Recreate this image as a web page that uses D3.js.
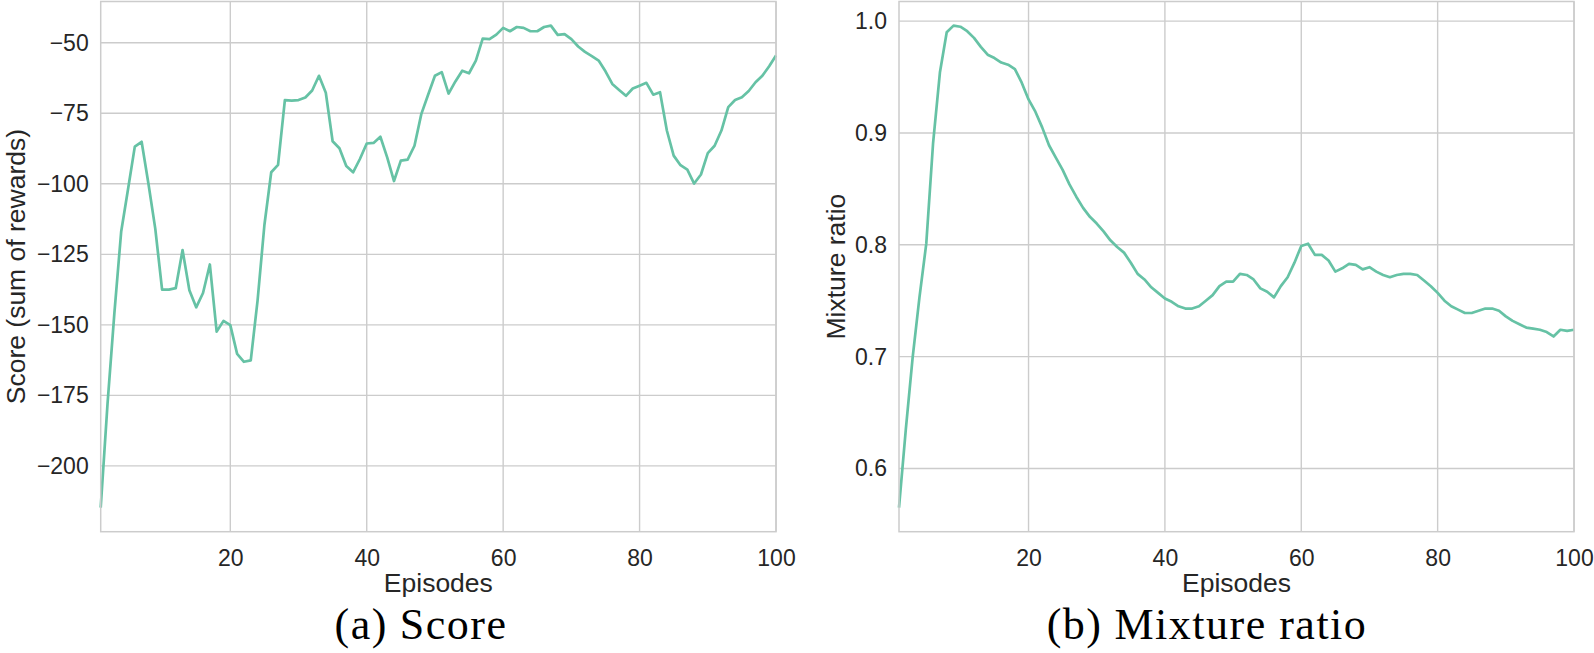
<!DOCTYPE html>
<html><head><meta charset="utf-8">
<script src="https://cdn.jsdelivr.net/npm/d3@7"></script>
<style>html,body{margin:0;padding:0;background:#fff;} svg{display:block}</style>
</head><body>
<svg id="chart" width="1594" height="653"></svg>
<script>
const episodes = d3.range(1, 101);
const scoreValues = [
 -214.8,-178,-146,-117,-102,-86.8,-85.1,-100,-115.9,-137.5,
 -137.5,-137,-123.5,-137.7,-143.8,-138.7,-128.6,-152.4,-148.6,-150.1,
 -160.3,-163.1,-162.6,-141.3,-114.6,-95.9,-93.3,-70.3,-70.5,-70.3,
 -69.4,-66.9,-61.7,-67.7,-84.9,-87.4,-93.7,-95.9,-91.2,-85.7,
 -85.5,-83.3,-90.6,-99.0,-91.8,-91.4,-86.5,-75.3,-68.4,-61.7,
 -60.4,-68,-63.7,-59.9,-60.8,-56.3,-48.5,-48.7,-47.1,-44.7,
 -45.9,-44.4,-44.7,-45.9,-45.9,-44.4,-43.9,-47.2,-46.9,-48.7,
 -51.3,-53.2,-54.7,-56.3,-60.1,-64.6,-66.7,-68.8,-66.2,-65.2,
 -64.2,-68.4,-67.5,-81.1,-90,-93.4,-95,-99.9,-96.7,-89.1,
 -86.5,-81.1,-72.8,-70.3,-69.3,-67.1,-64,-61.7,-58.3,-54.5
];
const ratioValues = [
 0.565,0.635,0.699,0.753,0.801,0.891,0.954,0.990,0.996,0.995,
 0.991,0.985,0.977,0.970,0.967,0.963,0.961,0.957,0.945,0.930,
 0.919,0.905,0.889,0.878,0.867,0.854,0.843,0.833,0.825,0.819,
 0.812,0.804,0.798,0.793,0.784,0.774,0.769,0.762,0.757,0.752,
 0.749,0.745,0.743,0.743,0.745,0.750,0.755,0.763,0.767,0.767,
 0.774,0.773,0.769,0.761,0.758,0.753,0.763,0.771,0.784,0.799,
 0.801,0.791,0.791,0.786,0.776,0.779,0.783,0.782,0.778,0.780,
 0.776,0.773,0.771,0.773,0.774,0.774,0.773,0.768,0.763,0.757,
 0.750,0.745,0.742,0.739,0.739,0.741,0.743,0.743,0.741,0.736,
 0.732,0.729,0.726,0.725,0.724,0.722,0.718,0.724,0.723,0.724
];
const xTicks = [20, 40, 60, 80, 100];
const scoreTicks = [-200, -175, -150, -125, -100, -75, -50];
const ratioTicks = [0.6, 0.7, 0.8, 0.9, 1.0];
const xLabel = "Episodes";
const scoreLabel = "Score (sum of rewards)";
const ratioLabel = "Mixture ratio";
const captionA = ["(a)", "Score"];
const captionB = ["(b)", "Mixture ratio"];

const panels = [
  {values: scoreValues, ticks: scoreTicks, fmt: d3.format("d"), ylabel: scoreLabel, caption: captionA,
   left: 100.7, right: 776, ylabelX: 25, captionX: 421},
  {values: ratioValues, ticks: ratioTicks, fmt: d3.format(".1f"), ylabel: ratioLabel, caption: captionB,
   left: 899, right: 1574, ylabelX: 845, captionX: 1207}
];
const plotTop = 1.5, plotBottom = 531.7;
const gridColor = "#cccccc", lineColor = "#66c2a5", textColor = "#262626";
const sans = "'Liberation Sans', Arial, Helvetica, sans-serif";
const serif = "'Liberation Serif', 'Times New Roman', serif";

const svg = d3.select("#chart");

panels.forEach(p => {
  const x = d3.scaleLinear().domain([1, 100]).range([p.left, p.right]);
  const [mn, mx] = d3.extent(p.values);
  const pad = (mx - mn) * 0.05;
  const y = d3.scaleLinear().domain([mn - pad, mx + pad]).range([plotBottom, plotTop]);
  const g = svg.append("g");

  g.selectAll(".gx").data(xTicks).join("line")
    .attr("x1", d => x(d)).attr("x2", d => x(d)).attr("y1", plotTop).attr("y2", plotBottom)
    .attr("stroke", gridColor).attr("stroke-width", 1.4);
  g.selectAll(".gy").data(p.ticks).join("line")
    .attr("x1", p.left).attr("x2", p.right).attr("y1", d => y(d)).attr("y2", d => y(d))
    .attr("stroke", gridColor).attr("stroke-width", 1.4);

  const line = d3.line().x((d, i) => x(episodes[i])).y(d => y(d));
  g.append("path").datum(p.values).attr("d", line)
    .attr("fill", "none").attr("stroke", lineColor).attr("stroke-width", 2.7)
    .attr("stroke-linejoin", "round");

  g.append("rect").attr("x", p.left).attr("y", plotTop).attr("width", p.right - p.left).attr("height", plotBottom - plotTop)
    .attr("fill", "none").attr("stroke", gridColor).attr("stroke-width", 1.5);

  const ax = g.append("g").attr("transform", `translate(0,${plotBottom})`)
    .call(d3.axisBottom(x).tickValues(xTicks).tickSize(0).tickPadding(18).tickFormat(d3.format("d")));
  ax.select(".domain").remove();
  ax.selectAll("text").attr("font-family", sans).attr("font-size", 23).attr("fill", textColor);

  const ay = g.append("g").attr("transform", `translate(${p.left},0)`)
    .call(d3.axisLeft(y).tickValues(p.ticks).tickSize(0).tickPadding(12).tickFormat(p.fmt));
  ay.select(".domain").remove();
  ay.selectAll("text").attr("font-family", sans).attr("font-size", 23).attr("fill", textColor);

  g.append("text").attr("x", (p.left + p.right) / 2).attr("y", 592)
    .attr("text-anchor", "middle").attr("font-family", sans).attr("font-size", 26.5)
    .attr("fill", textColor).text(xLabel);
  g.append("text").attr("transform", `translate(${p.ylabelX},${(plotTop + plotBottom) / 2}) rotate(-90)`)
    .attr("text-anchor", "middle").attr("font-family", sans).attr("font-size", 26.5)
    .attr("fill", textColor).text(p.ylabel);

  const cap = g.append("text").attr("x", p.captionX).attr("y", 639)
    .attr("text-anchor", "middle").attr("font-family", serif).attr("font-size", 44)
    .attr("letter-spacing", 1.5).attr("fill", "#000");
  cap.append("tspan").text(p.caption[0]);
  cap.append("tspan").attr("dx", 12).text(p.caption[1]);
});
</script>
</body></html>
